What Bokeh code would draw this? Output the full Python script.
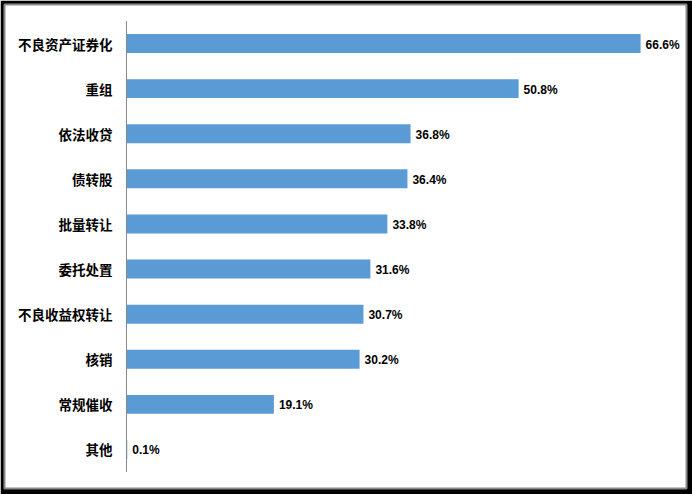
from bokeh.plotting import figure
from bokeh.models import ColumnDataSource, FactorRange, Range1d
from bokeh.core.properties import value
from bokeh.embed import file_html
from bokeh.resources import INLINE

categories = ["不良资产证券化", "重组", "依法收贷", "债转股", "批量转让",
              "委托处置", "不良收益权转让", "核销", "常规催收", "其他"]
values = [66.6, 50.8, 36.8, 36.4, 33.8, 31.6, 30.7, 30.2, 19.1, 0.1]
value_labels = ["%.1f%%" % v for v in values]

source = ColumnDataSource(dict(cat=categories, val=values, lab=value_labels))

p = figure(width=692, height=494, output_backend="svg", toolbar_location=None,
           y_range=FactorRange(factors=categories[::-1], range_padding=0.073),
           x_range=Range1d(-15.8, 72.55),
           min_border_left=4, min_border_right=6, min_border_top=4, min_border_bottom=6)
p.border_fill_color = "black"
p.background_fill_color = "white"
p.outline_line_color = "#8c8c8c"
p.outline_line_width = 2
p.xaxis.visible = False
p.yaxis.visible = False
p.grid.visible = False

p.hbar(y="cat", right="val", left=0, height=0.42, source=source,
       fill_color="#5B9BD5", line_color=None)

# vertical axis line across all categories
p.segment(x0=[0], y0=[0], x1=[0], y1=[len(categories)], line_color="#868686", line_width=1)

p.text(x=0, y="cat", text="cat", source=source, x_offset=-14,
       text_align="right", text_baseline="middle",
       text_font=value("Noto Sans CJK SC"), text_font_style="bold",
       text_font_size="13.5px", text_color="black")

p.text(x="val", y="cat", text="lab", source=source, x_offset=5, y_offset=1,
       text_align="left", text_baseline="middle",
       text_font=value("Liberation Sans"), text_font_style="bold",
       text_font_size="12px", text_color="black")

open("out.html", "w").write(file_html(p, INLINE))
